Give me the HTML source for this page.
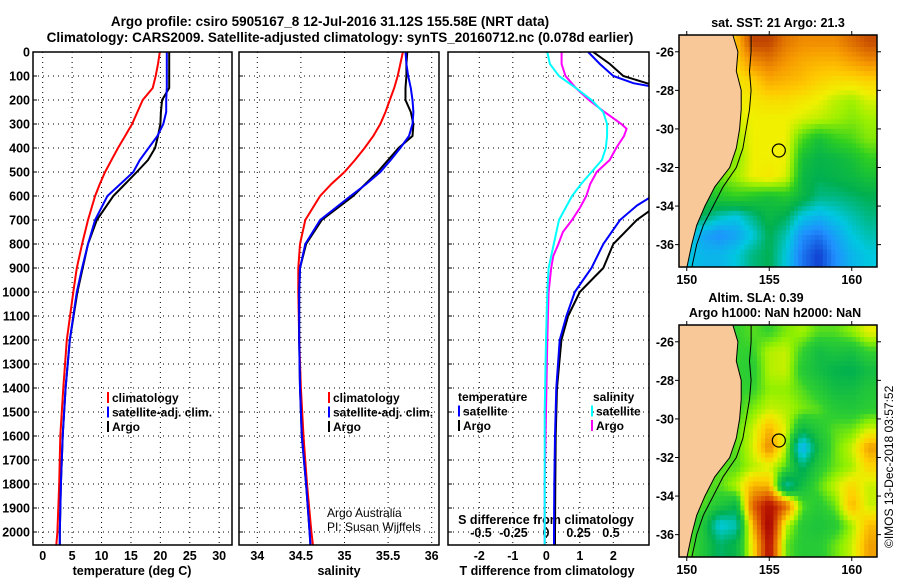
<!DOCTYPE html>
<html><head><meta charset="utf-8">
<style>
html,body{margin:0;padding:0;background:#fff;}
svg{display:block;font-family:"Liberation Sans",Arial,sans-serif;}
.b{font-weight:bold;font-size:12.5px;}
.n{font-weight:normal;font-size:12px;}
</style></head>
<body>
<svg id="s" width="900" height="580" xmlns="http://www.w3.org/2000/svg">
<text class="b" x="330" y="26" text-anchor="middle" style="font-size:13.5px">Argo profile: csiro 5905167_8 12-Jul-2016 31.12S 155.58E (NRT data)</text>
<text class="b" x="340" y="42" text-anchor="middle" style="font-size:13.5px">Climatology: CARS2009. Satellite-adjusted climatology: synTS_20160712.nc (0.078d earlier)</text>
<text x="893" y="548" transform="rotate(-90 893 548)" style="font-size:12px">©IMOS 13-Dec-2018 03:57:52</text>
</svg>
<script>
// ---------- data ----------
const depthTicks=[0,100,200,300,400,500,600,700,800,900,1000,1100,1200,1300,1400,1500,1600,1700,1800,1900,2000];
const tempTicks=[0,5,10,15,20,25,30];
const salTicks=[34,34.5,35,35.5,36];
const tdiffTicks=[-2,-1,0,1,2];
const sdiffTicks=[-0.5,-0.25,0,0.25,0.5];
const sdiffTickLabels=["-0.5","-0.25","0","0.25","0.5"];

const profDepth=[0,50,100,150,200,250,300,350,400,450,500,550,600,700,800,900,1000,1200,1400,1600,1800,2000,2060];
const tempClim=[19.9,19.6,19.2,18.7,17.0,16.1,15.2,14.0,12.8,11.7,10.6,9.7,8.9,7.7,6.7,5.8,5.2,4.1,3.5,3.0,2.8,2.5,2.3];
const tempSat=[21.1,21.1,21.1,21.1,21.0,21.0,20.5,19.5,18.0,16.5,15.4,13.2,11.0,8.9,7.7,6.7,5.8,4.6,3.9,3.4,3.1,2.9,2.9];
const tempArgo=[21.5,21.5,21.5,21.5,20.3,20.1,20.0,19.6,19.1,17.9,16.0,14.0,12.0,9.2,7.7,6.8,5.9,4.6,3.9,3.4,3.1,2.9,2.9];
const salClim=[35.67,35.64,35.61,35.57,35.52,35.47,35.41,35.33,35.23,35.12,35.0,34.85,34.72,34.55,34.49,34.47,34.47,34.48,34.5,34.53,34.57,34.62,34.64];
const salSat=[35.7,35.71,35.73,35.76,35.78,35.79,35.78,35.74,35.64,35.53,35.41,35.25,35.07,34.72,34.55,34.49,34.48,34.48,34.49,34.51,34.56,34.6,34.61];
const salArgo=[35.72,35.71,35.71,35.7,35.7,35.76,35.79,35.78,35.62,35.5,35.38,35.24,35.1,34.74,34.56,34.49,34.48,34.48,34.49,34.51,34.56,34.6,34.61];

const diffDepth=[0,50,100,130,150,580,640,700,800,900,950,1000,1100,1200,1400,1600,1800,2000,2060];
const tdiffSat=[1.25,1.6,2.0,2.6,3.4,3.4,2.7,2.2,1.7,1.35,1.1,0.85,0.6,0.4,0.3,0.26,0.24,0.23,0.23];
const tdiffArgo=[1.4,1.9,2.3,3.0,3.6,3.6,3.3,2.7,2.0,1.7,1.35,1.0,0.65,0.45,0.32,0.28,0.27,0.26,0.26];
const sDepth=[0,50,100,150,200,250,300,320,350,400,450,500,550,600,650,700,750,800,850,900,1000,1200,1500,1800,2060];
const sdiffSat=[0.01,0.03,0.1,0.23,0.35,0.44,0.47,0.47,0.47,0.46,0.43,0.35,0.27,0.2,0.15,0.1,0.08,0.06,0.04,0.02,0.01,0,-0.01,-0.01,-0.01];
const sdiffArgo=[0.12,0.12,0.15,0.23,0.33,0.45,0.58,0.62,0.6,0.54,0.49,0.39,0.34,0.31,0.26,0.2,0.13,0.095,0.056,0.04,0.02,0.01,0,-0.01,-0.01];

const mapLons=[150,151,152,153,154,155,156,157,158,159,160,161];
const mapLats=[-25.5,-26.5,-27.5,-28.5,-29.5,-30.5,-31.5,-32.5,-33.5,-34.5,-35.5,-36.5];
const sstGrid=[
[21,21,21,21.5,22.7,22.7,22.2,22.0,22.0,22.0,22.3,22.6],
[21,21,21,21.3,22.0,22.2,21.9,21.7,21.6,21.6,21.8,22.0],
[21,21,21,21.1,21.3,21.7,21.6,21.5,21.3,21.2,21.2,21.3],
[21,21,21,21.0,21.1,21.2,21.2,21.1,21.0,20.8,20.7,20.9],
[21,21,21,20.9,21.0,21.0,21.0,20.9,20.8,20.7,20.6,20.7],
[21,21,21,20.7,21.0,21.0,21.0,20.4,20.1,20.3,20.4,20.6],
[21,21,20.6,20.6,21.0,21.0,21.0,20.1,19.95,20.0,20.1,20.3],
[21,20.4,20.5,20.7,21.0,21.1,20.9,20.0,19.9,19.95,20.0,20.1],
[20.2,20.1,20.2,20.3,20.2,20.1,20.2,20.0,19.8,19.8,19.85,19.9],
[20.0,19.9,19.7,19.6,19.8,20.0,19.9,19.6,19.5,19.6,19.7,19.8],
[19.7,19.4,19.3,19.4,19.6,19.9,19.7,19.3,19.2,19.4,19.6,19.7],
[19.6,19.5,19.5,19.6,19.8,19.9,19.6,19.2,19.0,19.3,19.5,19.6]];
const slaGrid=[
[0,0,0,0,0.02,0.0,0.04,0.06,0.02,0.02,0.05,0.1],
[0,0,0,0,0,0.07,0.08,0,-0.06,-0.04,-0.05,0],
[0,0,0,0,-0.02,0.07,0.08,-0.02,-0.06,-0.09,-0.1,-0.06],
[0,0,0,0,0,0.05,0.05,0.02,-0.02,-0.06,-0.06,-0.03],
[0,0,0,0,0.04,0.08,0.07,0.04,0.02,-0.02,-0.03,-0.01],
[0,0,0,0.02,0.08,0.18,0.09,-0.07,-0.02,0.02,0.03,0.08],
[0,0,0,0.02,0.09,0.23,0.07,-0.28,-0.06,0.03,0.08,0.2],
[0,0,0.02,0.02,0.07,0.09,0.02,-0.12,-0.02,0.03,0.06,0.14],
[0,0.02,0.02,0.07,0.18,0.18,-0.18,-0.06,0.02,0.08,0.14,0.08],
[0,0.02,-0.03,-0.08,0.28,0.4,0.28,0.02,-0.02,0.03,0.18,0.08],
[0.03,-0.03,-0.22,-0.18,0.18,0.45,0.08,-0.02,-0.04,-0.02,0.06,0.17],
[0.03,-0.03,-0.12,-0.08,0.12,0.4,0.03,-0.02,-0.02,0.03,0.08,0.2]];
const coastLat=[-25,-26,-27,-28,-29,-30,-31,-32,-33,-34,-35,-36,-37.2];
const coastLon=[152.75,153.1,153.0,153.3,153.3,153.2,153.0,152.6,151.7,151.1,150.6,150.3,150.0];
const contourLon=[153.9,153.9,153.8,153.9,153.8,153.6,153.4,153.0,152.2,151.6,151.0,150.6,150.3];
const argoLon=155.58, argoLat=-31.12;
const mapLonTicks=[150,155,160];
const mapLatTicks=[-26,-28,-30,-32,-34,-36];

// ---------- helpers ----------
const NS="http://www.w3.org/2000/svg";
const S=document.getElementById('s');
function mk(tag,at,parent){const e=document.createElementNS(NS,tag);for(const k in at)e.setAttribute(k,at[k]);(parent||S).appendChild(e);return e;}
function txt(x,y,t,anchor,cls,parent){const e=mk('text',{x:x,y:y,'text-anchor':anchor||'start','class':cls||'b'},parent);e.textContent=t;return e;}

const Y0=52,Y1=545;
const yD=d=>52+d*0.24;
const panels=[
 {name:'temperature-panel',x0:33,x1:232},
 {name:'salinity-panel',x0:239,x1:439},
 {name:'difference-panel',x0:448,x1:649}];
const xT=t=>42.7+t*5.883;
const xS=s=>257.3+(s-34)*87.2;
const xTd=d=>546.3+d*33.5;
const xSd=d=>546+d*130;

const defs=mk('defs',{});
panels.forEach((p,i)=>{
  const cp=mk('clipPath',{id:'clip'+i},defs);
  mk('rect',{x:p.x0,y:Y0,width:p.x1-p.x0,height:Y1-Y0},cp);
});

function gridV(x){const l=mk('line',{x1:x,x2:x,y1:Y0,y2:Y1,stroke:'#000','stroke-width':1,'stroke-dasharray':'1,4'});

}
panels.forEach((p,i)=>{
  const g=mk('g',{});
  
  
  depthTicks.forEach(d=>{
    const y=yD(d);
    const l=mk('line',{x1:p.x0,x2:p.x1,y1:y,y2:y,stroke:'#000','stroke-width':1,'stroke-dasharray':'1,4'},g);
    
    
    mk('line',{x1:p.x0,x2:p.x0+4,y1:y,y2:y,stroke:'#000'},g);
    if(i===0){const t=txt(p.x0-3,y+4.5,String(d),'end','b',g);
      
      }
  });
});
tempTicks.forEach(t=>{gridV(xT(t));const e=txt(xT(t),560,String(t),'middle');
 
 });
salTicks.forEach(s=>{gridV(xS(s));const e=txt(xS(s),560,String(s),'middle');
 
 });
tdiffTicks.forEach(t=>{gridV(xTd(t));const e=txt(xTd(t),560,String(t),'middle');
 
 });
sdiffTicks.forEach((t,i)=>{const e=txt(xSd(t),537,sdiffTickLabels[i],'middle');
 
 });
let e;
e=txt(xSd(0),524,'S difference from climatology','middle');


e=txt(132,575,'temperature (deg C)','middle');


e=txt(339,575,'salinity','middle');


e=txt(547,575,'T difference from climatology','middle');



function line(xs,ds,fx,color,ci,name,w){
  const pts=xs.map((v,i)=>fx(v).toFixed(1)+','+yD(ds[i]).toFixed(1)).join(' ');
  const l=mk('polyline',{points:pts,fill:'none',stroke:color,'stroke-width':w||2,'clip-path':'url(#clip'+ci+')'});
  
  
}
line(tempClim,profDepth,xT,'#ff0000',0,'temperature-climatology-line');
line(tempArgo,profDepth,xT,'#000',0,'temperature-argo-line');
line(tempSat,profDepth,xT,'#0000ff',0,'temperature-satellite-line');
line(salClim,profDepth,xS,'#ff0000',1,'salinity-climatology-line');
line(salArgo,profDepth,xS,'#000',1,'salinity-argo-line');
line(salSat,profDepth,xS,'#0000ff',1,'salinity-satellite-line');
line(tdiffArgo,diffDepth,xTd,'#000',2,'t-difference-argo-line');
line(tdiffSat,diffDepth,xTd,'#0000ff',2,'t-difference-satellite-line');
line(sdiffArgo,sDepth,xSd,'#ff00ff',2,'s-difference-argo-line');
line(sdiffSat,sDepth,xSd,'#00ffff',2,'s-difference-satellite-line');

panels.forEach(p=>{const r=mk('rect',{x:p.x0,y:Y0,width:p.x1-p.x0,height:Y1-Y0,fill:'none',stroke:'#000','stroke-width':1.5});
 
 });

function legend(x,y,color,label){
  const g=mk('g',{});
  
  
  if(color) mk('rect',{x:x,y:y-10,width:2,height:11,fill:color},g);
  const t=txt(x+(color?5:0),y,label,'start','b',g);t.style.fontSize='12px';
}
[[107,'#ff0000','climatology'],[107,'#0000ff','satellite-adj. clim.'],[107,'#000','Argo']].forEach((l,i)=>legend(l[0],402+i*14.5,l[1],l[2]));
[[328,'#ff0000','climatology'],[328,'#0000ff','satellite-adj. clim.'],[328,'#000','Argo']].forEach((l,i)=>legend(l[0],402+i*14.5,l[1],l[2]));
legend(458,401,null,'temperature');legend(593,401,null,'salinity');
legend(458,415.5,'#0000ff','satellite');legend(458,430,'#000','Argo');
legend(591,415.5,'#00ffff','satellite');legend(591,430,'#ff00ff','Argo');
e=txt(327,517,'Argo Australia','start','n');


e=txt(327,531,'PI: Susan Wijffels','start','n');



// ---------- maps ----------
function lerpColor(stops,v){
  if(v<=stops[0][0])return 'rgb('+stops[0][1].join(',')+')';
  for(let i=1;i<stops.length;i++){if(v<=stops[i][0]){const a=stops[i-1],b=stops[i],f=(v-a[0])/(b[0]-a[0]);
    const ca=a[1],cb=b[1];return 'rgb('+ca.map((c,k)=>Math.round(c+(cb[k]-c)*f)).join(',')+')';}}
  const l=stops[stops.length-1][1];return 'rgb('+l.join(',')+')';
}
const sstStops=[[19.0,[16,64,208]],[19.3,[32,144,255]],[19.6,[0,200,224]],[19.9,[0,176,80]],[20.3,[48,208,32]],[20.7,[160,240,0]],[21.0,[240,240,0]],[21.4,[255,200,0]],[21.9,[245,150,0]],[22.4,[215,100,0]],[22.9,[176,48,0]]];
const slaStops=[[-0.3,[32,160,255]],[-0.2,[0,200,208]],[-0.1,[0,176,80]],[0,[48,208,48]],[0.05,[144,240,0]],[0.1,[232,240,0]],[0.15,[255,208,0]],[0.2,[240,160,0]],[0.28,[224,96,0]],[0.36,[192,32,0]],[0.45,[160,0,0]]];
function sample(grid,lon,lat){
  let fi=(lon-150),fj=(-25.5-lat);
  fi=Math.max(0,Math.min(11,fi));fj=Math.max(0,Math.min(11,fj));
  const i0=Math.min(10,Math.floor(fi)),j0=Math.min(10,Math.floor(fj)),a=fi-i0,b=fj-j0;
  return grid[j0][i0]*(1-a)*(1-b)+grid[j0][i0+1]*a*(1-b)+grid[j0+1][i0]*(1-a)*b+grid[j0+1][i0+1]*a*b;
}
function drawMap(top,grid,stops,name,k){
  const L=679,R=877,T=top,B=top+232;
  const lonMin=149.53,lonMax=161.53,latMax=-25.13,latMin=-37.16;
  const mx=lon=>L+(lon-lonMin)/(lonMax-lonMin)*(R-L);
  const my=lat=>T+(latMax-lat)/(latMax-latMin)*(B-T);
  const g=mk('g',{});
  
  
  const cp=mk('clipPath',{id:'mclip'+k},defs);mk('rect',{x:L,y:T,width:R-L,height:B-T},cp);
  const cg=mk('g',{'clip-path':'url(#mclip'+k+')'},g);
  const st=0.25;
  for(let lat=-25;lat>-37.5;lat-=st){for(let lon=149.5;lon<161.6;lon+=st){
    const v=sample(grid,lon+st/2,lat-st/2);
    const r=mk('rect',{x:mx(lon).toFixed(1),y:my(lat).toFixed(1),width:(st*16.5+0.6).toFixed(1),height:(st*19.3+0.6).toFixed(1),fill:lerpColor(stops,v)},cg);
    
    
  }}
  let pts=coastLat.map((la,i)=>mx(coastLon[i]).toFixed(1)+','+my(la).toFixed(1));
  const land=mk('polygon',{points:pts.join(' ')+' '+(L-5)+','+(B+5)+' '+(L-5)+','+(T-5),fill:'#f8c898',stroke:'#000','stroke-width':1},cg);
  
  
  const c=mk('polyline',{points:coastLat.map((la,i)=>mx(contourLon[i]).toFixed(1)+','+my(la).toFixed(1)).join(' '),fill:'none',stroke:'#000','stroke-width':1},cg);
  
  
  const ci=mk('circle',{cx:mx(argoLon),cy:my(argoLat),r:6.5,fill:'none',stroke:'#000','stroke-width':1.2},g);
  
  
  const fr=mk('rect',{x:L,y:T,width:R-L,height:B-T,fill:'none',stroke:'#000','stroke-width':1.5},g);
  
  
  mapLonTicks.forEach(lo=>{mk('line',{x1:mx(lo),x2:mx(lo),y1:T,y2:T-4,stroke:'#000'},g);mk('line',{x1:mx(lo),x2:mx(lo),y1:B,y2:B+4,stroke:'#000'},g);
    const t=txt(mx(lo),B+17,String(lo),'middle','b',g);
    
    });
  mapLatTicks.forEach(la=>{mk('line',{x1:L,x2:L-4,y1:my(la),y2:my(la),stroke:'#000'},g);mk('line',{x1:R,x2:R+4,y1:my(la),y2:my(la),stroke:'#000'},g);
    const t=txt(L-5,my(la)+4.5,String(la),'end','b',g);
    
    });
}
drawMap(35,sstGrid,sstStops,'sst-map',0);
drawMap(325,slaGrid,slaStops,'sla-map',1);
e=txt(778,27,'sat. SST: 21 Argo: 21.3','middle');


e=txt(756,302,'Altim. SLA: 0.39','middle');


e=txt(775,317,'Argo h1000: NaN h2000: NaN','middle');


</script>
</body></html>
